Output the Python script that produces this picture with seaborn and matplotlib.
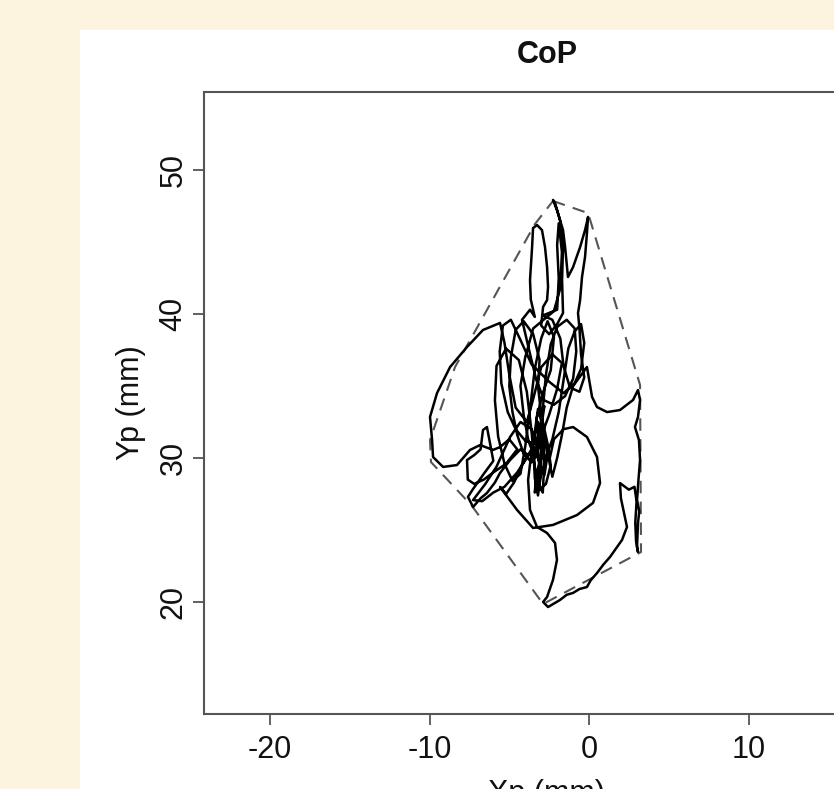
import matplotlib
matplotlib.use("Agg")
import matplotlib.pyplot as plt
from matplotlib.patches import Rectangle
import seaborn as sns

# CoP trajectory (mm)
cop_x = [
    -3.0, -2.6, -2.4, -2.7, -3.1, -3.4, -3.6, -3.9, -4.4, -5.2, -5.8, -5.9, -5.7, -5.3, -4.8, -4.3,
    -4.0, -3.7, -3.4, -3.0, -2.6, -2.2, -2.4, -2.9, -3.3, -3.1, -2.8, -2.3, -1.9, -1.6, -1.3, -0.9,
    -0.5, -0.3, -0.5, -0.9, -1.6, -2.5, -3.6, -4.3, -4.9, -5.4, -5.6, -5.5, -5.1, -4.6, -4.0, -3.4,
    -3.0, -2.8,
    -3.0, -3.2, -3.1, -3.5, -4.1, -4.6, -4.9, -5.0, -4.8, -4.5, -4.1, -3.6, -3.2, -2.9, -2.7, -2.4,
    -2.0, -1.4, -0.9, -0.8, -1.0, -1.5, -2.2, -2.8, -3.3, -3.8, -4.2, -3.7, -3.4,
    -3.65, -3.70, -3.57, -3.51, -3.26, -2.95, -2.76, -2.63, -2.57, -2.63, -2.88, -3.0, -2.5, -2.0,
    -1.63, -1.69, -1.63, -1.82, -2.13, -2.26, -2.01, -1.63, -1.50, -1.38, -1.32, -1.0, -0.56, -0.25,
    -0.06, -0.13, -0.25, -0.44, -0.56, -0.69, -0.6, -0.5, -0.3, -0.6, -1.2, -1.6, -1.8, -2.3, -2.9,
    -2.0, -1.9, -2.0, -1.9, -1.7, -1.8, -2.2,
    -3.5, -4.0, -4.3, -4.1, -3.8, -3.4, -3.0, -2.5, -2.0, -1.7, -2.3, -3.0, -3.5, -3.9, -4.6, -5.0,
    -5.3, -5.58,
    -6.65, -7.65, -8.71, -9.53, -9.97, -9.84, -9.78, -9.15, -8.28, -7.46, -6.83, -6.02, -5.58, -5.0, -4.5,
    -5.2, -6.0, -6.6, -7.2, -7.6, -7.65, -7.2, -6.8, -6.65, -6.40, -6.21, -6.0, -6.6, -7.3, -7.59, -7.27,
    -6.8, -6.40, -5.9, -5.58, -4.95, -4.3, -3.8, -4.5, -5.3, -6.0, -6.7, -7.27, -6.5, -5.8, -4.95, -4.3,
    -3.6, -3.2, -3.1, -3.3, -3.4, -3.3, -3.0, -2.8, -2.6, -2.8, -3.0, -3.5, -4.2, -4.7, -5.2, -5.58,
    -4.51, -3.51, -2.26, -0.75, 0.25, 0.69, 0.50, -0.13, -1.0, -1.6, -2.2, -2.5, -2.3, -2.0, -1.7, -1.4, -1.0,
    -0.13, 0.19, 0.50, 1.13, 1.94, 2.76, 3.07, 3.20, 3.07, 2.88, 3.13, 3.20, 3.10, 3.01, 3.15, 3.07, 3.01,
    3.07, 2.95, 2.90, 2.98, 2.85, 2.5, 1.94, 2.0, 2.38, 2.07, 1.32, 0.9, 0.50, 0.1, -0.13, -0.6, -1.0,
    -1.4, -1.82, -2.57, -2.88, -2.63, -2.26, -2.01, -2.13, -2.63, -3.26, -3.70, -3.82, -3.6, -3.2,
    -3.2, -3.0, -3.1, -2.9, -2.8, -2.9, -3.2, -3.5, -3.4, -3.2, -3.0, -3.0,
]
cop_y = [
    33.0, 31.0, 29.5, 28.2, 27.8, 29.3, 31.8, 34.6, 36.8, 37.6, 36.4, 34.0, 31.5, 29.6, 28.4, 28.9,
    30.8, 33.4, 36.2, 38.3, 39.5, 38.4, 36.1, 34.5, 32.7, 30.9, 29.8, 31.3, 33.2, 35.4, 37.6, 38.8,
    39.3, 38.0, 36.2, 35.2, 34.5, 35.3, 36.5, 38.2, 39.6, 39.2, 37.4, 35.2, 33.2, 32.0, 31.2, 31.0,
    32.1, 33.6,
    33.0, 35.0, 36.8, 38.6, 39.5, 38.9, 37.0, 35.0, 33.2, 31.6, 30.3, 29.7, 31.0, 33.4, 35.8, 37.9,
    39.1, 39.6, 39.0, 37.4, 35.5, 34.3, 33.7, 34.0, 35.4, 37.7, 39.6, 40.3, 39.8,
    41.0, 42.36, 44.65, 45.97, 46.18, 45.83, 44.65, 43.26, 41.88, 40.97, 40.49, 39.2, 38.6, 39.3,
    40.07, 42.36, 44.65, 46.53, 47.71, 47.92, 47.22, 45.83, 44.65, 43.26, 42.57, 43.26, 44.65, 45.83,
    46.74, 45.63, 43.96, 42.57, 40.97, 40.07, 39.0, 37.2, 35.6, 34.6, 34.9, 36.4, 38.3, 39.6, 39.9,
    40.3, 42.5, 44.8, 46.3, 44.3, 41.8, 40.2,
    39.0, 37.0, 35.0, 33.0, 31.2, 30.0, 31.5, 33.0, 34.8, 36.6, 37.2, 36.3, 34.1, 32.5, 33.5, 35.8,
    38.0, 39.38,
    38.89, 37.71, 36.32, 34.51, 32.85, 31.25, 30.07, 29.38, 29.51, 30.56, 30.90, 30.56, 30.76, 31.3, 30.6,
    29.6, 29.0, 28.5, 28.2, 28.5, 29.86, 30.2, 30.6, 31.94, 32.15, 31.04, 29.8, 28.9, 27.8, 27.3, 26.6,
    27.2, 27.57, 28.3, 28.96, 29.86, 30.6, 30.2, 29.0, 28.0, 27.6, 27.0, 27.08, 28.2, 29.4, 31.46, 32.5,
    32.0, 30.5, 29.2, 28.0, 27.6, 29.0, 30.0, 31.5, 30.2, 28.8, 29.4, 30.8, 29.5, 28.3, 27.5, 27.99,
    26.39, 25.14, 25.35, 26.04, 26.88, 28.26, 30.07, 31.46, 32.15, 32.0, 31.3, 29.8, 28.7, 30.0, 31.6, 33.5, 35.0,
    36.32, 34.24, 33.54, 33.19, 33.33, 34.03, 34.72, 34.03, 32.85, 32.15, 31.25, 29.86, 28.5, 27.08, 26.3, 25.49, 23.82,
    23.47, 24.2, 25.5, 27.0, 28.0, 27.8, 28.26, 27.2, 25.21, 24.31, 23.13, 22.6, 22.01, 21.5, 21.04, 20.9, 20.63,
    20.5, 20.14, 19.65, 20.0, 20.35, 21.53, 22.92, 24.10, 24.79, 25.21, 26.39, 28.47, 30.5, 32.5,
    32.5, 30.5, 28.0, 27.6, 29.8, 32.2, 33.4, 31.0, 28.6, 27.4, 29.0, 33.0,
]

# convex hull vertices (mm)
hull_x = [-2.26, -0.06, 3.20, 3.26, -2.88, -7.34, -9.91, -9.97, -8.40, -3.39]
hull_y = [47.85, 47.01, 35.07, 23.47, 19.86, 26.67, 29.72, 31.25, 36.32, 46.25]

x_ticks = [-20, -10, 0, 10]
y_ticks = [20, 30, 40, 50]

sns.set_theme(style="ticks")
plt.rcParams['font.family'] = ['Liberation Sans', 'DejaVu Sans']

fig = plt.figure(figsize=(8.34, 7.89), dpi=100, facecolor='#fcf4df')
# white panel of the original figure
fig.patches.append(Rectangle((80 / 834, 0), 1, 1 - 30 / 789, transform=fig.transFigure,
                             facecolor='white', edgecolor='none', zorder=-10))

ax = fig.add_axes([204 / 834, 1 - 714 / 789, 686 / 834, 622 / 789])
ax.set_zorder(5)
ax.set_facecolor('white')

sns.lineplot(x=hull_x + hull_x[:1], y=hull_y + hull_y[:1], sort=False, estimator=None,
             color='#555555', lw=1.5, ax=ax, linestyle=(0, (6, 4)))
sns.lineplot(x=cop_x, y=cop_y, sort=False, estimator=None, color='black', lw=1.8, ax=ax)

ax.set_xlim(-24.14, 18.87)
ax.set_ylim(12.22, 55.42)
ax.set_xticks(x_ticks)
ax.set_yticks(y_ticks)
ax.set_xticklabels([str(v) for v in x_ticks])
ax.set_yticklabels([str(v) for v in y_ticks], rotation=90, va='center')
ax.tick_params(length=8, width=1.3, color='#555555', labelsize=22, labelcolor='#111111')
ax.tick_params(axis='x', pad=7)
ax.tick_params(axis='y', pad=3)
for s in ax.spines.values():
    s.set_color('#555555')
    s.set_linewidth(1.5)

ax.set_title('CoP', fontsize=22, fontweight='bold', pad=21, color='#111111')
ax.set_xlabel('Xp (mm)', fontsize=22, labelpad=10, color='#111111')
ax.set_ylabel('Yp (mm)', fontsize=22, color='#111111')
ax.yaxis.set_label_coords(-0.085, 0.5)

fig.savefig('out.png', dpi=100, facecolor=fig.get_facecolor())
